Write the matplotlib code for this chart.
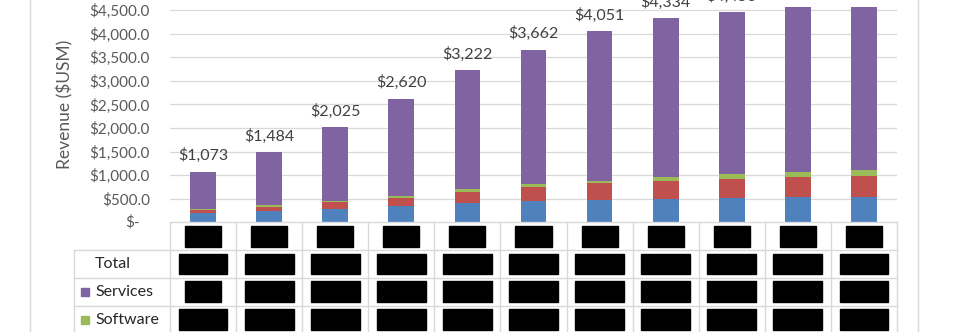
import matplotlib
matplotlib.use("Agg")
import matplotlib.pyplot as plt
import matplotlib.transforms as mtrans
from matplotlib.patches import Rectangle
from matplotlib.lines import Line2D
import numpy as np

plt.rcParams['font.family'] = ['Lato', 'DejaVu Sans']

# ---- data ----
totals = [1073, 1484, 2025, 2620, 3222, 3662, 4051, 4334, 4450, 4556, 4570]
blue_vals = [191, 233, 275, 345, 416, 452, 473, 488, 508, 530, 543]
red_vals = [63, 91, 155, 177, 226, 296, 354, 388, 416, 437, 445]
software = [34, 36, 28, 42, 58, 64, 55, 84, 93, 99, 114]
services = [t - b - r - s for t, b, r, s in zip(totals, blue_vals, red_vals, software)]
yticks = list(range(0, 5001, 500))
row_labels = ["Total", "Services", "Software"]

BLUE = "#4F81BD"
RED = "#C0504D"
GREEN = "#9BBB59"
PURPLE = "#8064A2"
GRID = "#D9D9D9"

W, H = 960, 332
fig = plt.figure(figsize=(W / 100, H / 100), dpi=100)

def fx(px):
    return px / W

def fy(py):
    return 1 - py / H

y0_px = 222.3
top_px = -13.6
ax = fig.add_axes([fx(170), fy(y0_px), fx(897) - fx(170), (y0_px - top_px) / H])
n = len(totals)
x = np.arange(n)
ax.set_xlim(-0.5, n - 0.5)
ax.set_ylim(0, 5000)

bw = 0.39
b1 = np.array(blue_vals)
b2 = b1 + np.array(red_vals)
b3 = b2 + np.array(software)
ax.bar(x, blue_vals, bw, color=BLUE, zorder=3)
ax.bar(x, red_vals, bw, bottom=b1, color=RED, zorder=3)
ax.bar(x, software, bw, bottom=b2, color=GREEN, zorder=3)
ax.bar(x, services, bw, bottom=b3, color=PURPLE, zorder=3)

for xi, t in zip(x, totals):
    ax.annotate("${:,.0f}".format(t), (xi, t), xytext=(0, 6), textcoords="offset points",
                ha="center", va="bottom", fontsize=11.5, color="#404040", annotation_clip=False)

ax.set_yticks(yticks)
ax.set_yticklabels(["" if v == 0 else "${:,.1f}".format(v) for v in yticks])
ax.tick_params(axis="y", length=0, pad=14.4, labelsize=11, labelcolor="#595959")
ax.tick_params(axis="x", length=0, labelbottom=False)
for v in yticks[1:]:
    ax.axhline(v, color=GRID, lw=0.9, zorder=1)
for s in ax.spines.values():
    s.set_visible(False)
# "$-" zero label, placed like Excel's accounting format (a bit left of the others)
ax.text(0, 0, "$-", ha="right", va="center", fontsize=11, color="#595959",
        transform=ax.get_yaxis_transform() +
        mtrans.ScaledTranslation(-30 / 100, 0, fig.dpi_scale_trans))

ylab = fig.text(fx(65), fy(104), "Revenue ($USM)", rotation=90, ha="center", va="center",
                fontsize=12.5, color="#595959")

# ---- data table ----
row_h = 27.8
nrows = 4
L = (170 - 74) / ((897 - 170) / n)
tax = fig.add_axes([fx(74), fy(y0_px + nrows * row_h), fx(897) - fx(74), nrows * row_h / H])
tax.set_xlim(-0.5 - L, n - 0.5)
tax.set_ylim(nrows, 0)
tax.axis("off")
lkw = dict(color=GRID, lw=1, clip_on=False)
tax.plot([-0.5, n - 0.5], [0, 0], **lkw)
for r in range(1, nrows + 1):
    tax.plot([-0.5 - L, n - 0.5], [r, r], **lkw)
for k in range(n + 1):
    tax.plot([-0.5 + k, -0.5 + k], [0, nrows], **lkw)
tax.plot([-0.5 - L, -0.5 - L], [1, nrows], **lkw)

left = -0.5 - L
colw = (897 - 170) / n
text_x = left + (95 - 74) / colw
key_x = left + (85 - 74) / colw
for r, lab in enumerate(row_labels, start=1):
    tax.text(text_x, r + 0.5, lab, ha="left", va="center", fontsize=11.5, color="#262626")
tax.plot([key_x], [2.5], marker="s", ms=5.8, color=PURPLE, clip_on=False)
tax.plot([key_x], [3.5], marker="s", ms=5.8, color=GREEN, clip_on=False)

# redacted cells (black boxes, hidden values inside)
bh = 0.75
row_values = [None, totals, services, software]
for r in range(nrows):
    for i in range(n):
        if r == 0:
            w = 0.545
        elif r == 2 and services[i] < 1000:
            w = 0.545
        else:
            w = 0.74
        tax.add_patch(Rectangle((i - w / 2, r + 0.5 - bh / 2), w, bh, color="black", zorder=4,
                                clip_on=False))
        if row_values[r] is not None:
            tax.text(i, r + 0.5, "${:,.0f}".format(row_values[r][i]), ha="center", va="center",
                     fontsize=8, color="black", zorder=5)

# outer chart border lines
fig.add_artist(Line2D([fx(30), fx(30)], [0, 1], color=GRID, lw=1))
fig.add_artist(Line2D([fx(918), fx(918)], [0, 1], color=GRID, lw=1))

fig.savefig("out.png", dpi=100)
